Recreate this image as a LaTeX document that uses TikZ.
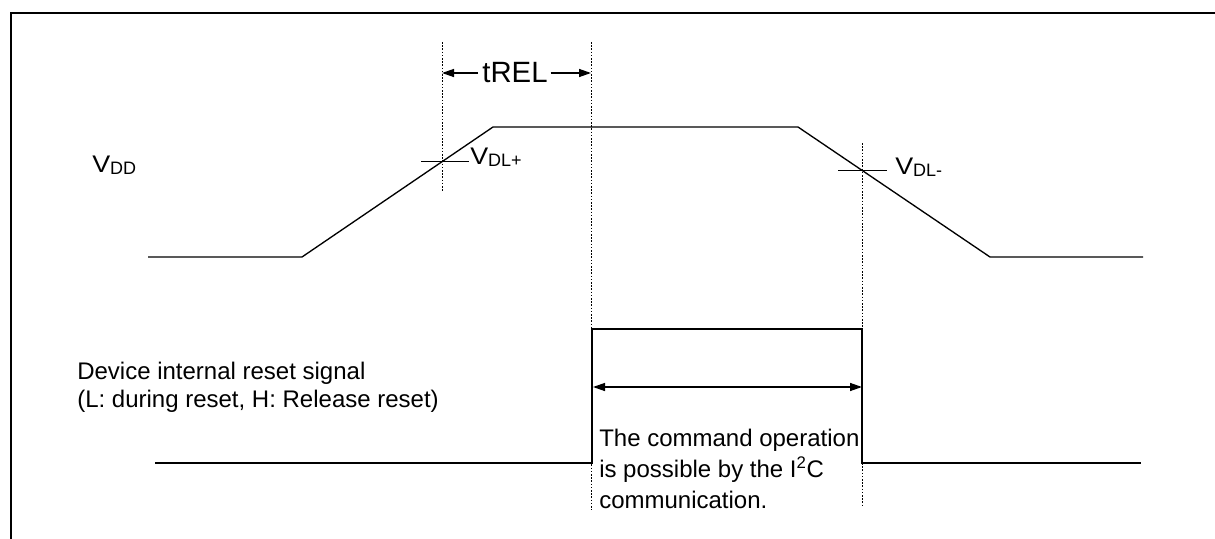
\documentclass[tikz,border=0pt]{standalone}
\usepackage{fontspec}
\setmainfont{Liberation Sans}
\newfontfamily\widearial[FakeStretch=1.12]{Liberation Sans}
\usetikzlibrary{arrows.meta,calc}
\newcommand\lowsub[1]{\raisebox{-1.5pt}{\fontsize{13.5pt}{15pt}\selectfont #1}}
\newcommand\voltV{{\widearial\fontsize{18pt}{21pt}\selectfont V}}
\begin{document}
\begin{tikzpicture}[x=0.75pt,y=-0.75pt,
  frame/.style={line width=1.5pt},
  wave/.style={line width=1pt, line join=miter},
  guide/.style={line width=0.6pt, dash pattern=on 1.2pt off 1.2pt},
  tick/.style={line width=1pt},
  dimarrow/.style={line width=1pt, -{Triangle[length=9pt,width=6pt]}},
  dimboth/.style={line width=1pt, {Triangle[length=9pt,width=6pt]}-{Triangle[length=9pt,width=6pt]}},
  lbl/.style={inner sep=0pt, anchor=base west, font=\fontsize{18pt}{21pt}\selectfont},
]
\useasboundingbox (0,0) rectangle (1215,539);
% frame
\draw[frame] (11,539) -- (11,13) -- (1215,13);

% VDD waveform
\coordinate (v0) at (148,257);
\coordinate (v1) at (302,257);
\coordinate (v2) at (493,127);
\coordinate (v3) at (798,127);
\coordinate (v4) at (990,257);
\coordinate (v5) at (1143,257);
\draw[wave] (v0) -- (v1) -- (v2) -- (v3) -- (v4) -- (v5);

% crossing points
\coordinate (xp) at ($(v1)!{(442-302)/191}!(v2)$);
\coordinate (xm) at ($(v3)!{(862-798)/192}!(v4)$);
\draw[tick] ($(xp)+(-21,0)$) -- ($(xp)+(27,0)$);
\draw[tick] ($(xm)+(-24,0)$) -- ($(xm)+(25,0)$);

% reset waveform
\coordinate (r0) at (155,463);
\coordinate (r1) at (592,463);
\coordinate (r2) at (592,329);
\coordinate (r3) at (862,329);
\coordinate (r4) at (862,463);
\coordinate (r5) at (1141,463);
\draw[wave] (r0) -- (r1) -- (r2) -- (r3) -- (r4) -- (r5);

% guide lines
\coordinate (g1t) at (442,42);
\coordinate (g1b) at (442,192);
\coordinate (g2t) at (591,42);
\coordinate (g2b) at (591,510);
\coordinate (g3t) at (862,143);
\coordinate (g3b) at (862,505);
\draw[guide] (g1t) -- (g1b);
\draw[guide] (g2t) -- (g2b);
\draw[guide] (g3t) -- (g3b);

% tREL
\node[inner sep=0pt, anchor=base, font=\fontsize{22pt}{24pt}\selectfont] (trel) at (515,82) {tREL};
\coordinate (tl) at (442,73);
\coordinate (tr) at (591,73);
\draw[dimarrow] ([xshift=-3pt]trel.west |- tl) -- (tl);
\draw[dimarrow] ([xshift=2pt]trel.east |- tr) -- (tr);

% double arrow
\coordinate (al) at (593,387);
\coordinate (ar) at (862,387);
\draw[dimboth] (al) -- (ar);

% labels
\node[lbl] (vdd) at (92,172) {\voltV\lowsub{DD}};
\node[lbl] (vdlp) at (470,164) {\voltV\lowsub{DL+}};
\node[lbl] (vdlm) at (895,174) {\voltV\lowsub{DL-}};

\node[lbl] (dev1) at (77,379) {Device internal reset signal};
\node[lbl] (dev2) at (77,407) {(L: during reset, H: Release reset)};

\node[lbl] (cmd1) at (599,446) {The command operation};
\node[lbl] (cmd2) at (599,477) {is possible by the I\textsuperscript{2}C};
\node[lbl] (cmd3) at (599,508) {communication.};
\end{tikzpicture}
\end{document}
